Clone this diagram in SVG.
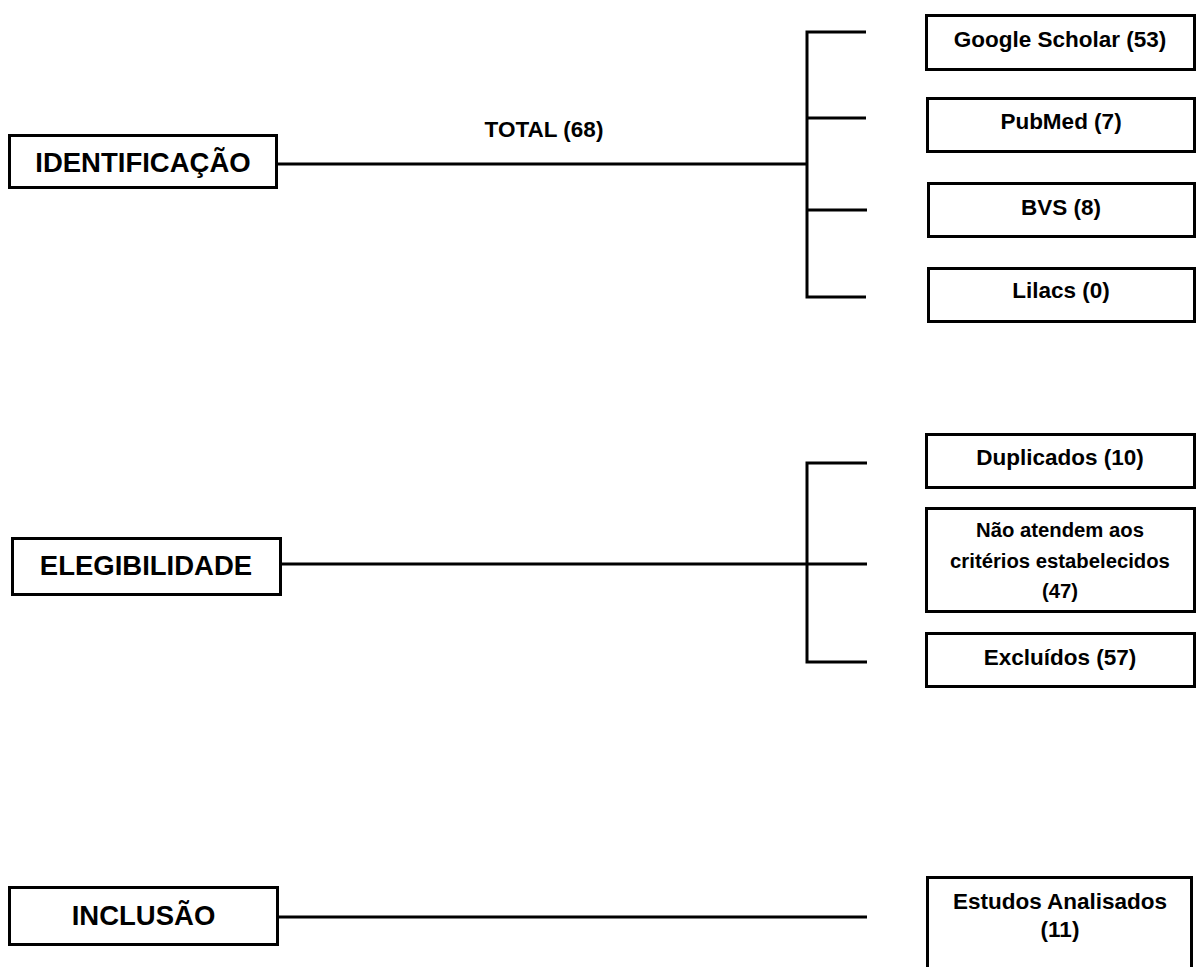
<svg xmlns="http://www.w3.org/2000/svg" width="1197" height="967" viewBox="0 0 1197 967">
<style>
.box{fill:#fff;stroke:#000;stroke-width:3}
.ln{stroke:#000;stroke-width:3;fill:none}
.t{font-family:"Liberation Sans",Arial,sans-serif;font-weight:bold;fill:#000;text-anchor:middle}
.big{font-size:27.5px}
.mid{font-size:22.5px}
.sm{font-size:20.3px}
</style>
<rect width="1197" height="967" fill="#fff"/>
<g id="connectors">
<line class="ln" x1="278" y1="164" x2="807" y2="164"/>
<path class="ln" d="M866 32 H807 V297 H866 M807 118 H866 M807 210 H867"/>
<line class="ln" x1="282" y1="564" x2="867" y2="564"/>
<path class="ln" d="M867 463 H807 V662 H867"/>
<line class="ln" x1="279" y1="917" x2="867" y2="917"/>
</g>
<text class="t mid" x="544" y="137">TOTAL (68)</text>
<g id="identificacao"><rect class="box" x="9.5" y="135.5" width="267" height="52"/><text class="t big" x="143" y="171.5">IDENTIFICAÇÃO</text></g>
<g id="elegibilidade"><rect class="box" x="12.5" y="538.5" width="268" height="56"/><text class="t big" x="146" y="575">ELEGIBILIDADE</text></g>
<g id="inclusao"><rect class="box" x="9.5" y="887.5" width="268" height="57"/><text class="t big" x="143.5" y="925">INCLUSÃO</text></g>
<g id="google"><rect class="box" x="926.5" y="15.5" width="268" height="54"/><text class="t mid" x="1060" y="47">Google Scholar (53)</text></g>
<g id="pubmed"><rect class="box" x="927.5" y="98.5" width="267" height="53"/><text class="t mid" x="1061" y="129">PubMed (7)</text></g>
<g id="bvs"><rect class="box" x="928.5" y="183.5" width="266" height="53"/><text class="t mid" x="1061" y="215">BVS (8)</text></g>
<g id="lilacs"><rect class="box" x="928.5" y="268.5" width="266" height="53"/><text class="t mid" x="1061" y="298">Lilacs (0)</text></g>
<g id="duplicados"><rect class="box" x="926.5" y="434.5" width="268" height="53"/><text class="t mid" x="1060" y="465">Duplicados (10)</text></g>
<g id="naoatendem"><rect class="box" x="926.5" y="508.5" width="268" height="103"/><text class="t sm" x="1060" y="537">Não atendem aos</text><text class="t sm" x="1060" y="568">critérios estabelecidos</text><text class="t sm" x="1060" y="598">(47)</text></g>
<g id="excluidos"><rect class="box" x="926.5" y="633.5" width="268" height="53"/><text class="t mid" x="1060" y="665">Excluídos (57)</text></g>
<g id="estudos"><rect class="box" x="927.5" y="877.5" width="264" height="100"/><text class="t mid" x="1060" y="909">Estudos Analisados</text><text class="t mid" x="1060" y="937">(11)</text></g>
</svg>
